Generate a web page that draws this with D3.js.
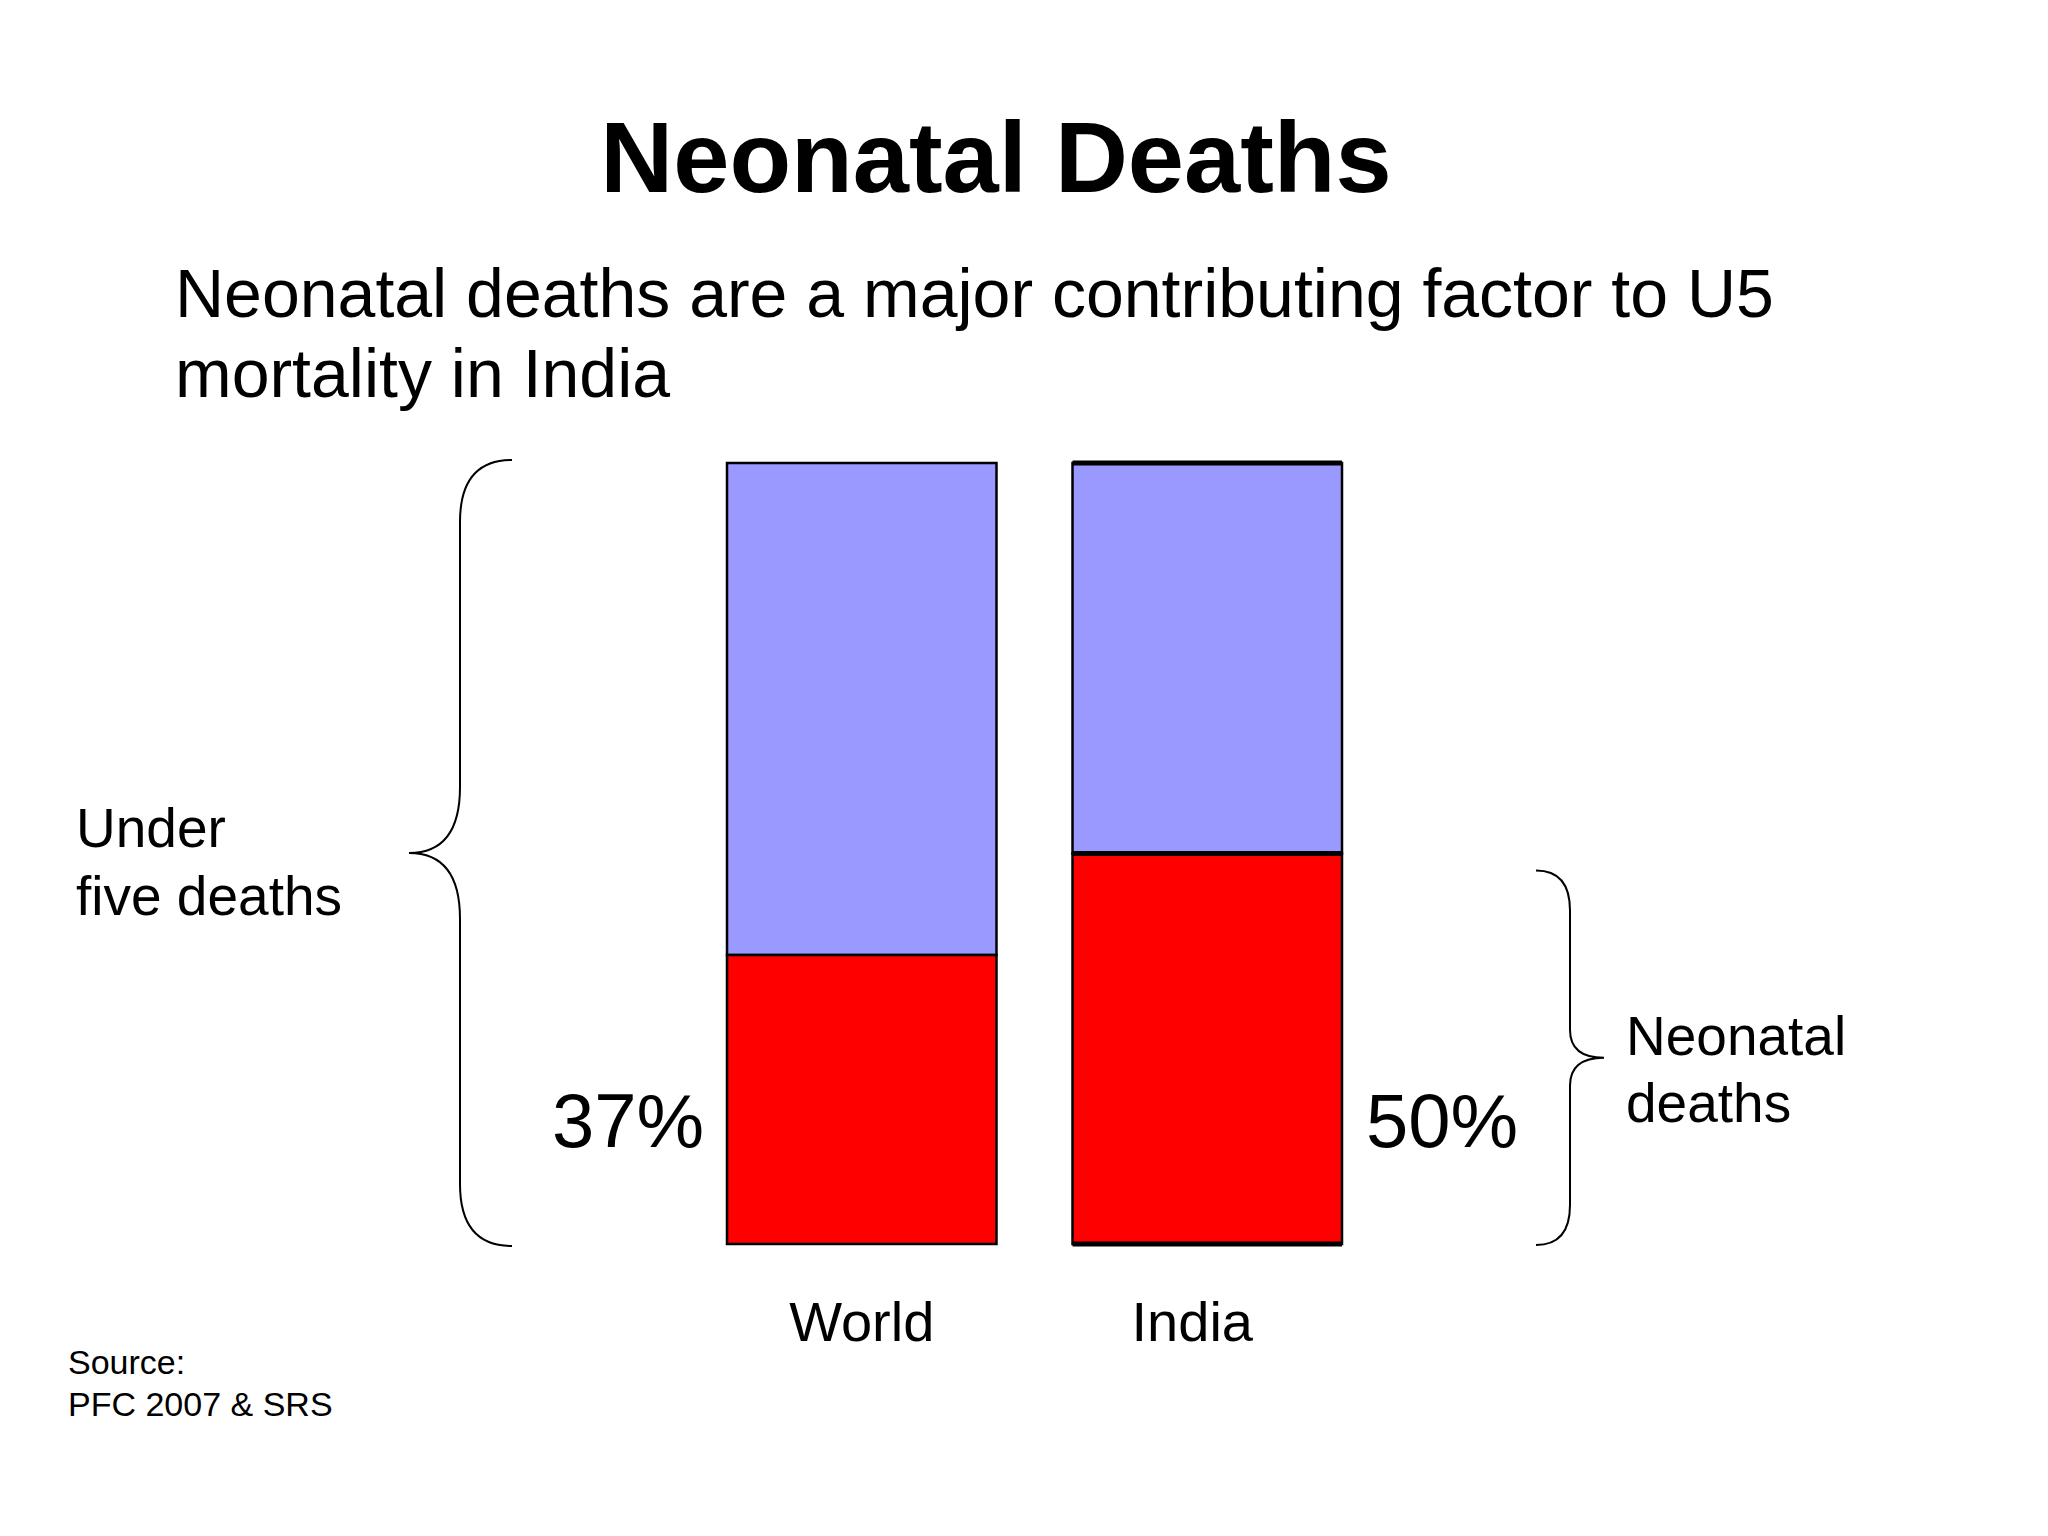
<!DOCTYPE html>
<html>
<head>
<meta charset="utf-8">
<script src="https://cdn.jsdelivr.net/npm/d3@7"></script>
<style>
  body { margin: 0; background: #fff; }
  text { font-family: "Liberation Sans", Arial, sans-serif; fill: #000; }
</style>
</head>
<body>
<svg class="chart"></svg>
<script>
// share of under-five deaths that are neonatal
var categories = ["World", "India"];
var neonatalShare = [37, 50];
var pctLabels = ["37%", "50%"];
var totalShare = 100;

var width = 2048, height = 1536;

var svg = d3.select(".chart")
    .attr("width", width)
    .attr("height", height);

var x = d3.scaleBand()
    .domain(categories)
    .range([727, 1342])
    .paddingInner(0.22);

var y = d3.scaleLinear()
    .domain([0, totalShare])
    .range([1244, 463]);

// title + subtitle
svg.append("text")
    .attr("x", 996).attr("y", 192)
    .style("text-anchor", "middle")
    .style("font-weight", "bold")
    .style("font-size", "101px")
    .text("Neonatal Deaths");

var sub = svg.append("text")
    .attr("x", 175).attr("y", 317)
    .style("font-size", "68px");
sub.append("tspan").attr("x", 175).text("Neonatal deaths are a major contributing factor to U5");
sub.append("tspan").attr("x", 175).attr("dy", 80).text("mortality in India");

var bars = svg.append("g");

// upper part: remaining under-five deaths
bars.selectAll(".rest")
    .data(categories)
  .enter().append("rect")
    .attr("class", "rest")
    .attr("x", function(d) { return x(d); })
    .attr("width", x.bandwidth())
    .attr("y", y(totalShare))
    .attr("height", function(d, i) { return y(neonatalShare[i]) - y(totalShare); })
    .style("fill", "#9999ff")
    .style("stroke", "#000")
    .style("stroke-width", 2.5);

// lower part: neonatal deaths
bars.selectAll(".neo")
    .data(categories)
  .enter().append("rect")
    .attr("class", "neo")
    .attr("x", function(d) { return x(d); })
    .attr("width", x.bandwidth())
    .attr("y", function(d, i) { return y(neonatalShare[i]); })
    .attr("height", function(d, i) { return y(0) - y(neonatalShare[i]); })
    .style("fill", "#ff0000")
    .style("stroke", "#000")
    .style("stroke-width", 2.5);

// india bar has heavier horizontal edges
var ind = categories[1];
bars.selectAll(".edge")
    .data([totalShare, neonatalShare[1], 0])
  .enter().append("line")
    .attr("class", "edge")
    .attr("x1", x(ind))
    .attr("x2", x(ind) + x.bandwidth())
    .attr("y1", function(d) { return y(d); })
    .attr("y2", function(d) { return y(d); })
    .style("stroke", "#000")
    .style("stroke-width", 5);

// percentage labels, world on the left, india on the right
svg.selectAll(".pct")
    .data(categories)
  .enter().append("text")
    .attr("class", "pct")
    .attr("x", function(d, i) { return i == 0 ? x(d) - 23 : x(d) + x.bandwidth() + 24; })
    .attr("y", 1147)
    .style("text-anchor", function(d, i) { return i == 0 ? "end" : "start"; })
    .style("font-size", "76px")
    .text(function(d, i) { return pctLabels[i]; });

// category labels
svg.selectAll(".cat")
    .data(categories)
  .enter().append("text")
    .attr("class", "cat")
    .attr("x", function(d, i) { return x(d) + x.bandwidth() / 2 - (i == 1 ? 15 : 0); })
    .attr("y", y(0) + 97)
    .style("text-anchor", "middle")
    .style("font-size", "56px")
    .text(function(d) { return d; });

// curly brace with the tip pointing towards xTip
function brace(xArm, xLine, xTip, y0, y1, r, rm) {
  var ym = (y0 + y1) / 2;
  return "M" + xArm + "," + y0 +
    "Q" + xLine + "," + y0 + " " + xLine + "," + (y0 + r) +
    "L" + xLine + "," + (ym - rm) +
    "Q" + xLine + "," + ym + " " + xTip + "," + ym +
    "Q" + xLine + "," + ym + " " + xLine + "," + (ym + rm) +
    "L" + xLine + "," + (y1 - r) +
    "Q" + xLine + "," + y1 + " " + xArm + "," + y1;
}

svg.append("path")
    .attr("d", brace(512, 460, 409, y(totalShare) - 3, y(0) + 2, 62, 66))
    .style("fill", "none")
    .style("stroke", "#000")
    .style("stroke-width", 2);

svg.append("path")
    .attr("d", brace(1536, 1570, 1604, y(neonatalShare[1]) + 17, y(0) + 1, 40, 28))
    .style("fill", "none")
    .style("stroke", "#000")
    .style("stroke-width", 2);

// side labels
var left = svg.append("text").attr("x", 76).attr("y", 847).style("font-size", "55px");
left.append("tspan").attr("x", 76).text("Under");
left.append("tspan").attr("x", 76).attr("dy", 68).text("five deaths");

var right = svg.append("text").attr("x", 1626).attr("y", 1055).style("font-size", "55px");
right.append("tspan").attr("x", 1626).text("Neonatal");
right.append("tspan").attr("x", 1626).attr("dy", 67).text("deaths");

// source
var src = svg.append("text").attr("x", 68).attr("y", 1374).style("font-size", "34px");
src.append("tspan").attr("x", 68).text("Source:");
src.append("tspan").attr("x", 68).attr("dy", 42).text("PFC 2007 & SRS");
</script>
</body>
</html>
